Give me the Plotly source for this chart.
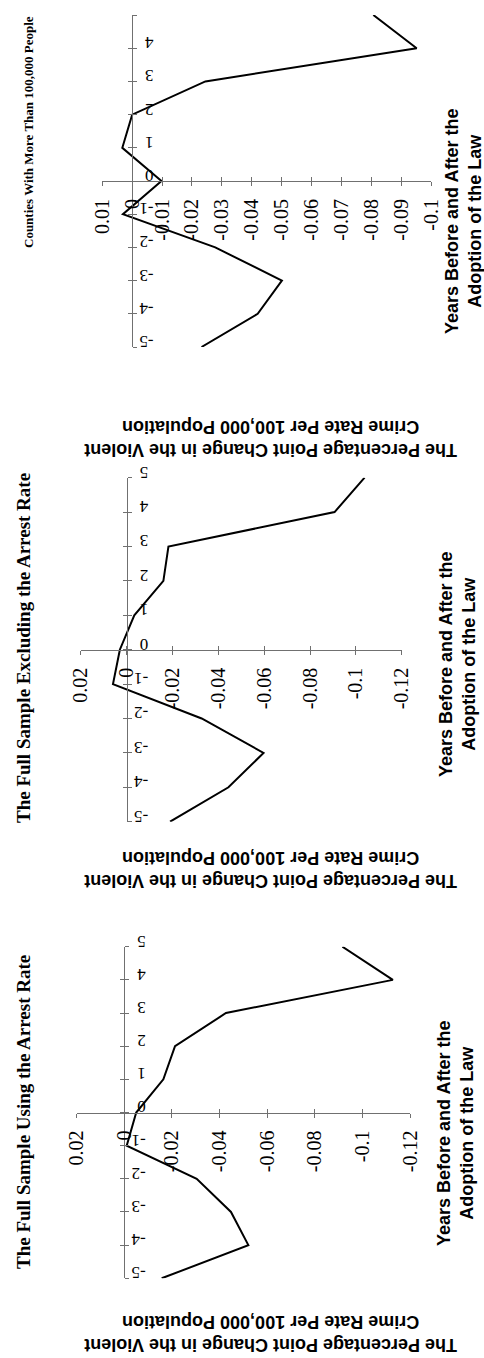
import plotly.graph_objects as go

# ---------------- data ----------------
years = [-5, -4, -3, -2, -1, 0, 1, 2, 3, 4, 5]
year_ticktext = ["-5", "-4", "-3", "-2", "-1", "0", "1", "2", "3", "4", "5"]

counties_100k = [-0.0232, -0.0420, -0.0501, -0.0278, 0.0031, -0.0098, 0.0033, 0.0000, -0.0245, -0.0952, -0.0807]
excluding_arrest = [-0.0189, -0.0444, -0.0597, -0.0327, 0.0060, 0.0030, -0.0033, -0.0160, -0.0182, -0.0907, -0.1038]
using_arrest = [-0.0157, -0.0521, -0.0448, -0.0304, -0.0010, -0.0050, -0.0164, -0.0213, -0.0427, -0.1128, -0.0916]

p1_tickvals = [0.01, 0, -0.01, -0.02, -0.03, -0.04, -0.05, -0.06, -0.07, -0.08, -0.09, -0.1]
p1_ticktext = ["0.01", "0", "-0.01", "-0.02", "-0.03", "-0.04", "-0.05", "-0.06", "-0.07", "-0.08", "-0.09", "-0.1"]
p23_tickvals = [0.02, 0, -0.02, -0.04, -0.06, -0.08, -0.1, -0.12]
p23_ticktext = ["0.02", "0", "-0.02", "-0.04", "-0.06", "-0.08", "-0.1", "-0.12"]

titles = ["Counties With More Than 100,000 People",
          "The Full Sample Excluding the Arrest Rate",
          "The Full Sample Using the Arrest Rate"]
x_title = "Years Before and After the<br>Adoption of the Law"
y_title = "The Percentage Point Change in the Violent<br>Crime Rate Per 100,000 Population"

# ---------------- layout ----------------
W, H = 484, 1358
def fx(px):
    return px / W
def fy(py):
    return 1 - py / H

panels = [
    dict(series=counties_100k, vrange=[0.01, -0.1], tv=p1_tickvals, tt=p1_ticktext,
         xpx=(102.3, 431.0), ypx=(15.0, 347.0),
         title_xy=(29, 132), title_size=13,
         xt_xy=(464, 222), yt_xy=(271, 438)),
    dict(series=excluding_arrest, vrange=[0.02, -0.12], tv=p23_tickvals, tt=p23_ticktext,
         xpx=(80.9, 401.7), ypx=(477.7, 821.7),
         title_xy=(23, 648), title_size=19,
         xt_xy=(457, 665), yt_xy=(271, 870)),
    dict(series=using_arrest, vrange=[0.02, -0.12], tv=p23_tickvals, tt=p23_ticktext,
         xpx=(76.7, 410.0), ypx=(946.7, 1278.3),
         title_xy=(23, 1112), title_size=19,
         xt_xy=(455, 1134), yt_xy=(271, 1334)),
]

fig = go.Figure()
serif = "Liberation Serif, Times New Roman, serif"
sans = "Liberation Sans, Arial, sans-serif"
axis_col = "#707070"
annotations = []

for i, p in enumerate(panels, start=1):
    j = i + 3  # overlay axes giving the crossing half of each tick
    xa = "x" if i == 1 else f"x{i}"
    ya = "y" if i == 1 else f"y{i}"
    fig.add_trace(go.Scatter(x=p["series"], y=years, mode="lines",
                             line=dict(color="black", width=2),
                             xaxis=xa, yaxis=ya, showlegend=False,
                             cliponaxis=False, hoverinfo="x+y"))
    fig.add_trace(go.Scatter(x=[], y=[], mode="lines", xaxis=f"x{j}", yaxis=f"y{j}",
                             showlegend=False, hoverinfo="skip"))
    xdom = [fx(p["xpx"][0]), fx(p["xpx"][1])]
    ydom = [fy(p["ypx"][1]), fy(p["ypx"][0])]
    r0, r1 = p["vrange"]
    # positions of the crossing axes (value 0 / year 0) in paper units
    x_zero = xdom[0] + (0 - r0) / (r1 - r0) * (xdom[1] - xdom[0])
    y_zero = ydom[0] + (0 - years[0]) / (years[-1] - years[0]) * (ydom[1] - ydom[0])

    common_x = dict(domain=xdom, range=p["vrange"], anchor="free", position=y_zero,
                    tickvals=p["tv"], showgrid=False, zeroline=False, automargin=False,
                    tickcolor=axis_col, tickwidth=1, ticklen=4)
    common_y = dict(domain=ydom, range=[years[0], years[-1]], anchor="free", position=x_zero,
                    side="right", tickvals=years, showgrid=False, zeroline=False, automargin=False,
                    tickcolor=axis_col, tickwidth=1, ticklen=4)

    fig.layout[f"xaxis{'' if i == 1 else i}"] = dict(
        **common_x, showline=True, linecolor=axis_col, linewidth=1,
        ticks="outside", ticktext=p["tt"], tickangle=-90, ticklabelstandoff=5,
        tickfont=dict(family=serif, size=20, color="black"))
    fig.layout[f"yaxis{'' if i == 1 else i}"] = dict(
        **common_y, showline=True, linecolor=axis_col, linewidth=1,
        ticks="outside", ticktext=year_ticktext, tickangle=180, ticklabelstandoff=13,
        tickfont=dict(family=serif, size=17, color="black"))
    fig.layout[f"xaxis{j}"] = dict(**common_x, overlaying=xa, showline=False,
                                   ticks="inside", showticklabels=False)
    fig.layout[f"yaxis{j}"] = dict(**common_y, overlaying=ya, showline=False,
                                   ticks="inside", showticklabels=False)

    annotations.append(dict(text=f"<b>{titles[i-1]}</b>", textangle=-90,
                            x=fx(p["title_xy"][0]), y=fy(p["title_xy"][1]),
                            xref="paper", yref="paper", showarrow=False,
                            xanchor="center", yanchor="middle",
                            font=dict(family=serif, size=p["title_size"], color="black")))
    annotations.append(dict(text=f"<b>{x_title}</b>", textangle=-90,
                            x=fx(p["xt_xy"][0]), y=fy(p["xt_xy"][1]),
                            xref="paper", yref="paper", showarrow=False,
                            xanchor="center", yanchor="middle",
                            font=dict(family=sans, size=18, color="black")))
    annotations.append(dict(text=f"<b>{y_title}</b>", textangle=180,
                            x=fx(p["yt_xy"][0]), y=fy(p["yt_xy"][1]),
                            xref="paper", yref="paper", showarrow=False,
                            xanchor="center", yanchor="middle",
                            font=dict(family=sans, size=18, color="black")))

fig.update_layout(width=W, height=H, margin=dict(l=0, r=0, t=0, b=0, autoexpand=False),
                  paper_bgcolor="white", plot_bgcolor="white",
                  annotations=annotations, showlegend=False)

fig.write_html("out.html", config={"displayModeBar": False},
               post_script="document.body.style.margin='0';document.body.style.overflow='hidden';")
